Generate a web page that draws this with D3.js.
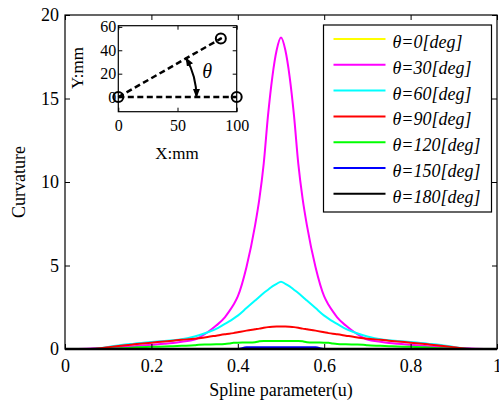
<!DOCTYPE html>
<html>
<head>
<meta charset="utf-8">
<script src="https://cdn.jsdelivr.net/npm/d3@7/dist/d3.min.js"></script>
<style>
  body { margin: 0; background: #fff; }
  svg { display: block; font-family: "Liberation Serif", "Times New Roman", serif; }
  .axis path, .axis line { stroke: #000; }
  .axis text { fill: #000; font-family: "Liberation Serif", "Times New Roman", serif; }
</style>
</head>
<body>
<svg id="chart" width="499" height="404"></svg>
<script>
// spline parameter samples
var uVals = [0, 0.05, 0.07, 0.1, 0.13, 0.16, 0.2, 0.23, 0.25, 0.27, 0.3, 0.31, 0.33, 0.35, 0.37, 0.38, 0.39, 0.4, 0.42, 0.44, 0.45, 0.46, 0.47, 0.48, 0.49,
  0.5,
  0.51, 0.52, 0.53, 0.54, 0.55, 0.56, 0.58, 0.6, 0.61, 0.62, 0.63, 0.65, 0.67, 0.69, 0.7, 0.73, 0.75, 0.77, 0.8, 0.84, 0.87, 0.9, 0.93, 0.95, 1];

var curv0 = [0, 0, 0, 0, 0, 0, 0, 0, 0, 0, 0, 0, 0, 0, 0, 0, 0, 0, 0, 0, 0, 0, 0, 0, 0,
  0,
  0, 0, 0, 0, 0, 0, 0, 0, 0, 0, 0, 0, 0, 0, 0, 0, 0, 0, 0, 0, 0, 0, 0, 0, 0];
var curv30 = [0, 0.02, 0.04, 0.08, 0.12, 0.17, 0.25, 0.31, 0.36, 0.43, 0.56, 0.68, 1.0, 1.4, 1.9, 2.25, 2.65, 3.15, 4.9, 7.4, 9.0, 11.1, 14.0, 16.3, 17.9,
  18.65,
  17.9, 16.3, 14.0, 11.1, 9.0, 7.4, 4.9, 3.15, 2.65, 2.25, 1.9, 1.4, 1.0, 0.68, 0.56, 0.43, 0.36, 0.31, 0.25, 0.17, 0.12, 0.08, 0.04, 0.02, 0];
var curv60 = [0, 0, 0.02, 0.12, 0.24, 0.32, 0.42, 0.48, 0.52, 0.58, 0.75, 0.82, 1.0, 1.2, 1.5, 1.65, 1.82, 2.0, 2.45, 2.9, 3.13, 3.35, 3.55, 3.75, 3.9,
  4.03,
  3.9, 3.75, 3.55, 3.35, 3.13, 2.9, 2.45, 2.0, 1.82, 1.65, 1.5, 1.2, 1.0, 0.82, 0.75, 0.58, 0.52, 0.48, 0.42, 0.32, 0.24, 0.12, 0.02, 0, 0];
var curv90 = [0, 0, 0.02, 0.1, 0.2, 0.28, 0.38, 0.45, 0.5, 0.55, 0.62, 0.65, 0.72, 0.8, 0.88, 0.91, 0.95, 1.0, 1.1, 1.18, 1.22, 1.27, 1.31, 1.33, 1.34,
  1.34,
  1.34, 1.33, 1.31, 1.27, 1.22, 1.18, 1.1, 1.0, 0.95, 0.91, 0.88, 0.8, 0.72, 0.65, 0.62, 0.55, 0.5, 0.45, 0.38, 0.28, 0.2, 0.1, 0.02, 0, 0];
var curv120 = [0, 0, 0, 0, 0.04, 0.09, 0.13, 0.15, 0.17, 0.19, 0.22, 0.26, 0.27, 0.28, 0.3, 0.33, 0.37, 0.38, 0.39, 0.41, 0.46, 0.48, 0.48, 0.48, 0.48,
  0.48,
  0.48, 0.48, 0.48, 0.48, 0.46, 0.41, 0.39, 0.38, 0.37, 0.33, 0.3, 0.28, 0.27, 0.26, 0.22, 0.19, 0.17, 0.15, 0.13, 0.09, 0.04, 0, 0, 0, 0];
var curv150 = [0, 0, 0, 0, 0, 0, 0, 0, 0, 0, 0, 0, 0, 0, 0, 0, 0, 0, 0.1, 0.1, 0.1, 0.1, 0.1, 0.1, 0.1,
  0.1,
  0.1, 0.1, 0.1, 0.1, 0.1, 0.1, 0.1, 0, 0, 0, 0, 0, 0, 0, 0, 0, 0, 0, 0, 0, 0, 0, 0, 0, 0];
var curv180 = [0, 0, 0, 0, 0, 0, 0, 0, 0, 0, 0, 0, 0, 0, 0, 0, 0, 0, 0, 0, 0, 0, 0, 0, 0,
  0,
  0, 0, 0, 0, 0, 0, 0, 0, 0, 0, 0, 0, 0, 0, 0, 0, 0, 0, 0, 0, 0, 0, 0, 0, 0];

var angles = [0, 30, 60, 90, 120, 150, 180];
var seriesColors = ["#ffff00", "#ff00ff", "#00ffff", "#ff0000", "#00ff00", "#0000ff", "#000000"];
var seriesValues = [curv0, curv30, curv60, curv90, curv120, curv150, curv180];

var xTicks = [0, 0.2, 0.4, 0.6, 0.8, 1];
var yTicks = [0, 5, 10, 15, 20];

// inset geometry (mm)
var insetBase = [[0, 0], [100, 0]];
var insetArm = [[0, 0], [86.6, 50]];
var insetPoints = [[0, 0], [100, 0], [86.6, 50]];
var insetXTicks = [0, 50, 100];
var insetYTicks = [0, 20, 40, 60];

var FONT = '"Liberation Serif", "Times New Roman", serif';

var svg = d3.select("#chart");
var margin = {top: 15, right: 2, bottom: 55, left: 65};
var W = 499 - margin.left - margin.right,
    H = 404 - margin.top - margin.bottom;

var x = d3.scaleLinear().domain([0, 1]).range([0, W]);
var y = d3.scaleLinear().domain([0, 20]).range([H, 0]);

var g = svg.append("g").attr("transform", "translate(" + margin.left + "," + margin.top + ")");

var line = d3.line()
    .curve(d3.curveMonotoneX)
    .x(function(d) { return x(d[0]); })
    .y(function(d) { return y(d[1]); });

// curves
seriesValues.forEach(function(vals, i) {
    var pts = uVals.map(function(u, j) { return [u, vals[j]]; });
    g.append("path")
        .datum(pts)
        .attr("fill", "none")
        .attr("stroke", seriesColors[i])
        .attr("stroke-width", i === 6 ? 2.5 : 2)
        .attr("d", line);
});

// axes
function styleAxis(sel, size) {
    sel.attr("class", "axis")
        .attr("font-size", size)
        .attr("font-family", FONT);
    sel.selectAll("text").attr("font-family", FONT).style("font-size", size + "px");
    sel.select(".domain").remove();
}

g.append("g").attr("transform", "translate(0," + H + ")")
    .call(d3.axisBottom(x).tickValues(xTicks).tickFormat(d3.format("")).tickSizeInner(-5).tickSizeOuter(0).tickPadding(10))
    .call(styleAxis, 18);
g.append("g")
    .call(d3.axisTop(x).tickValues(xTicks).tickFormat("").tickSizeInner(-5).tickSizeOuter(0))
    .call(styleAxis, 18);
g.append("g")
    .call(d3.axisLeft(y).tickValues(yTicks).tickSizeInner(-5).tickSizeOuter(0).tickPadding(6))
    .call(styleAxis, 18);
g.append("g").attr("transform", "translate(" + W + ",0)")
    .call(d3.axisRight(y).tickValues(yTicks).tickFormat("").tickSizeInner(-5).tickSizeOuter(0))
    .call(styleAxis, 18);

g.append("rect")
    .attr("width", W).attr("height", H)
    .attr("fill", "none").attr("stroke", "#000").attr("stroke-width", 1.2);

// axis titles
svg.append("text")
    .attr("x", margin.left + W / 2).attr("y", 396)
    .attr("text-anchor", "middle").style("font-size", "18px")
    .text("Spline parameter(u)");
svg.append("text")
    .attr("transform", "translate(19," + (margin.top + H / 2) + ") rotate(-90)")
    .attr("text-anchor", "middle").attr("dy", "0.35em").style("font-size", "18px")
    .text("Curvature");

// legend
var legend = svg.append("g").attr("transform", "translate(323.5,25)");
legend.append("rect")
    .attr("width", 168).attr("height", 187)
    .attr("fill", "#fff").attr("stroke", "#000").attr("stroke-width", 1.2);
var items = legend.selectAll("g.item").data(angles).enter()
    .append("g").attr("class", "item")
    .attr("transform", function(d, i) { return "translate(0," + (14 + i * 25.8) + ")"; });
items.append("line")
    .attr("x1", 10).attr("x2", 62)
    .attr("stroke", function(d, i) { return seriesColors[i]; })
    .attr("stroke-width", 2);
items.append("text")
    .attr("x", 69).attr("y", 9)
    .style("font-size", "18px").style("font-style", "italic")
    .text(function(d) { return "\u03b8=" + d + "[deg]"; });

// inset
var ix = d3.scaleLinear().domain([0, 100]).range([118.3, 236.7]);
var iy = d3.scaleLinear().domain([-12.5, 61]).range([111.7, 25.7]);
var inset = svg.append("g");

inset.append("rect")
    .attr("x", ix(0)).attr("y", iy(61))
    .attr("width", ix(100) - ix(0)).attr("height", iy(-12.5) - iy(61))
    .attr("fill", "#fff");

inset.append("g").attr("transform", "translate(0," + iy(-12.5) + ")")
    .call(d3.axisBottom(ix).tickValues(insetXTicks).tickSizeInner(-4).tickSizeOuter(0).tickPadding(8))
    .call(styleAxis, 16);
inset.append("g").attr("transform", "translate(" + ix(0) + ",0)")
    .call(d3.axisLeft(iy).tickValues(insetYTicks).tickSizeInner(-4).tickSizeOuter(0).tickPadding(2))
    .call(styleAxis, 16);
inset.append("g").attr("transform", "translate(0," + iy(61) + ")")
    .call(d3.axisTop(ix).tickValues(insetXTicks).tickFormat("").tickSizeInner(-4).tickSizeOuter(0))
    .call(styleAxis, 16);
inset.append("g").attr("transform", "translate(" + ix(100) + ",0)")
    .call(d3.axisRight(iy).tickValues(insetYTicks).tickFormat("").tickSizeInner(-4).tickSizeOuter(0))
    .call(styleAxis, 16);

inset.append("rect")
    .attr("x", ix(0)).attr("y", iy(61))
    .attr("width", ix(100) - ix(0)).attr("height", iy(-12.5) - iy(61))
    .attr("fill", "none").attr("stroke", "#000").attr("stroke-width", 1.2);

var iline = d3.line()
    .x(function(d) { return ix(d[0]); })
    .y(function(d) { return iy(d[1]); });

[insetBase, insetArm].forEach(function(seg) {
    inset.append("path").datum(seg)
        .attr("fill", "none").attr("stroke", "#000")
        .attr("stroke-width", 2.5).attr("stroke-dasharray", "6,3.5")
        .attr("d", iline);
});

inset.selectAll("circle.pt").data(insetPoints).enter()
    .append("circle").attr("class", "pt")
    .attr("cx", function(d) { return ix(d[0]); })
    .attr("cy", function(d) { return iy(d[1]); })
    .attr("r", 5)
    .attr("fill", "none").attr("stroke", "#000").attr("stroke-width", 2);
inset.append("circle")
    .attr("cx", ix(86.6)).attr("cy", iy(50)).attr("r", 1.3).attr("fill", "#000");

// angle arrow
svg.append("defs").append("marker")
    .attr("id", "head")
    .attr("viewBox", "0 0 10 10").attr("refX", 9).attr("refY", 5)
    .attr("markerWidth", 4.5).attr("markerHeight", 3.5)
    .attr("preserveAspectRatio", "none")
    .attr("orient", "auto-start-reverse")
    .append("path").attr("d", "M0,0L10,5L0,10Z").attr("fill", "#000");

var r = ix(66) - ix(0);
var arcPath = d3.path();
arcPath.arc(ix(0), iy(0), r, -Math.PI / 6, 0, false);
inset.append("path")
    .attr("d", arcPath.toString())
    .attr("fill", "none").attr("stroke", "#000").attr("stroke-width", 2)
    .attr("marker-start", "url(#head)").attr("marker-end", "url(#head)");

inset.append("text")
    .attr("x", ix(75)).attr("y", iy(22)).attr("dy", "0.35em")
    .attr("text-anchor", "middle")
    .style("font-size", "20px").style("font-style", "italic")
    .text("\u03b8");

svg.append("text")
    .attr("x", 177).attr("y", 159)
    .attr("text-anchor", "middle").style("font-size", "17px")
    .text("X:mm");
svg.append("text")
    .attr("transform", "translate(77,68) rotate(-90)")
    .attr("text-anchor", "middle").attr("dy", "0.35em").style("font-size", "17px")
    .text("Y:mm");
</script>
</body>
</html>
